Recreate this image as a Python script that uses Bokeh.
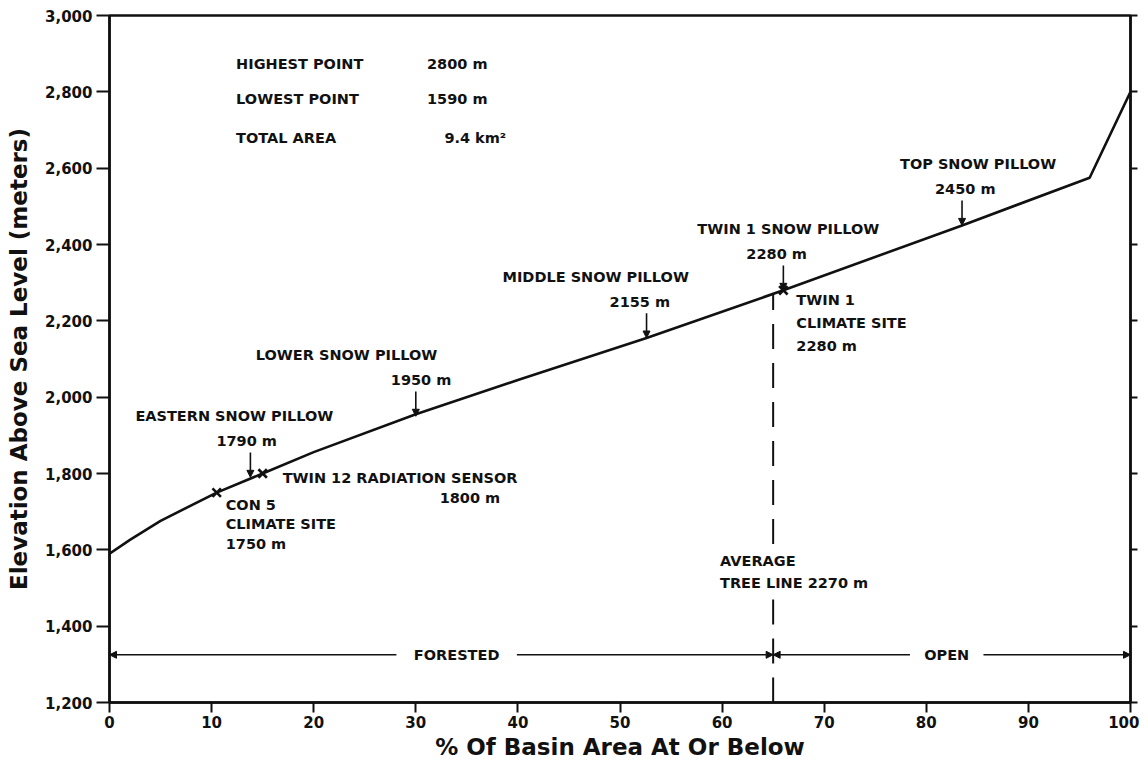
from bokeh.plotting import figure
from bokeh.models import (ColumnDataSource, LinearAxis, FixedTicker, NumeralTickFormatter,
                          Arrow, NormalHead, Range1d)
from bokeh.embed import file_html
from bokeh.resources import INLINE
from bokeh.core.properties import value

# ---------------- data ----------------
# hypsometric curve: % of basin area at or below vs elevation (m)
area_pct = [0, 2, 5, 10.5, 15, 20, 30, 40, 52.6, 66, 83.5, 96, 100]
elevation_m = [1590, 1626, 1676, 1750, 1800, 1856, 1955, 2045, 2155, 2280, 2450, 2575, 2800]

# snow pillows (arrows)
pillow_names = ["EASTERN SNOW PILLOW", "LOWER SNOW PILLOW", "MIDDLE SNOW PILLOW",
                "TWIN 1 SNOW PILLOW", "TOP SNOW PILLOW"]
pillow_pct = [13.8, 30.0, 52.6, 66.0, 83.5]
pillow_elev = [1790, 1950, 2155, 2280, 2450]

# climate / radiation sites (x markers)
site_lines = [["CON 5", "CLIMATE SITE"], ["TWIN 12 RADIATION SENSOR"], ["TWIN 1", "CLIMATE SITE"]]
site_pct = [10.5, 15.0, 66.0]
site_elev = [1750, 1800, 2280]

# basin summary
total_area_km2 = 9.4

# tree line and land cover zones
tree_line_pct = 65
tree_line_elev = 2270
zone_names = ["FORESTED", "OPEN"]
zone_start = [0, 65]
zone_end = [65, 100]
zone_level = 1325

x_ticks = [0, 10, 20, 30, 40, 50, 60, 70, 80, 90, 100]
y_ticks = [1200, 1400, 1600, 1800, 2000, 2200, 2400, 2600, 2800, 3000]

# ---------------- styling / layout constants ----------------
FONT = "DejaVu Sans"
LBL_SIZE = "14.5px"
INK = "#111111"

p = figure(width=1139, height=762, x_range=Range1d(0, 100), y_range=Range1d(1200, 3000),
           output_backend="svg", toolbar_location=None,
           min_border_left=109, min_border_right=9, min_border_top=15, min_border_bottom=55,
           x_axis_label="% Of Basin Area At Or Below",
           y_axis_label="Elevation Above Sea Level (meters)")
p.background_fill_color = "white"
p.border_fill_color = "white"
p.xgrid.visible = False
p.ygrid.visible = False
p.outline_line_color = INK
p.outline_line_width = 2.5

for ax in (p.xaxis[0], p.yaxis[0]):
    ax.axis_line_width = 2.5
    ax.axis_line_color = INK
    ax.major_tick_line_width = 2
    ax.major_tick_line_color = INK
    ax.minor_tick_line_color = None
    ax.major_tick_in = 0
    ax.major_label_text_font = FONT
    ax.major_label_text_font_style = "bold"
    ax.major_label_text_font_size = "15px"
    ax.major_label_text_color = INK
    ax.axis_label_text_font = FONT
    ax.axis_label_text_font_style = "bold"
    ax.axis_label_text_font_size = "23px"
    ax.axis_label_text_color = INK

p.xaxis.ticker = FixedTicker(ticks=x_ticks)
p.xaxis.major_tick_out = 10
p.xaxis.major_label_standoff = 3
p.xaxis.axis_label_standoff = 3

p.yaxis.ticker = FixedTicker(ticks=y_ticks)
p.yaxis.formatter = NumeralTickFormatter(format="0,0")
p.yaxis.major_tick_out = 13
p.yaxis.major_label_standoff = 4
p.yaxis.axis_label_standoff = 10

right = LinearAxis(ticker=FixedTicker(ticks=y_ticks),
                   major_label_overrides={t: "" for t in y_ticks},
                   axis_line_width=2.5, axis_line_color=INK,
                   major_tick_line_width=2, major_tick_line_color=INK,
                   major_tick_in=0, major_tick_out=7, minor_tick_line_color=None,
                   major_label_standoff=0, major_label_text_font_size="1px")
p.add_layout(right, "right")

# curve
p.line(area_pct, elevation_m, line_width=2.6, line_color=INK)

# tree line (dashed, broken where its caption sits)
gap_lo, gap_hi = 1470, 1615
p.segment(x0=[tree_line_pct, tree_line_pct], y0=[1200, gap_hi],
          x1=[tree_line_pct, tree_line_pct], y1=[gap_lo, tree_line_elev],
          line_width=2, line_color=INK, line_dash="25 14")

def txt(src, **kw):
    p.text(x="x", y="y", text="text", x_offset="dx", y_offset="dy", source=src,
           text_font=value(FONT), text_font_style="bold", text_font_size=value(LBL_SIZE),
           text_color=INK, text_align="left", text_baseline="middle", **kw)

# tree line caption
txt(ColumnDataSource(dict(x=[59.8, 59.8], y=[1572, 1512],
                          text=["AVERAGE", f"TREE LINE {tree_line_elev} m"], dx=[0, 0], dy=[0, 0])))

# forested / open zone line with arrows
zone_label_pct = [34.0, 82.0]
zone_half_gap = [5.9, 3.6]
for s, e, c, hw, name in zip(zone_start, zone_end, zone_label_pct, zone_half_gap, zone_names):
    for a, b in ((c - hw, s), (c + hw, e)):
        p.add_layout(Arrow(x_start=a, y_start=zone_level, x_end=b, y_end=zone_level,
                           line_width=1.6, line_color=INK,
                           end=NormalHead(size=7, fill_color=INK, line_color=INK, line_width=1)))
p.text(x=zone_label_pct, y=[zone_level] * 2, text=zone_names,
       text_font=value(FONT), text_font_style="bold", text_font_size=value(LBL_SIZE),
       text_color=INK, text_align="center", text_baseline="middle")

# pillow arrows
arrow_len_m = 65
arr_src = ColumnDataSource(dict(x0=pillow_pct, y0=[e + arrow_len_m for e in pillow_elev],
                                x1=pillow_pct, y1=pillow_elev))
p.add_layout(Arrow(source=arr_src, x_start="x0", y_start="y0", x_end="x1", y_end="y1",
                   line_width=1.6, line_color=INK,
                   end=NormalHead(size=7, fill_color=INK, line_color=INK, line_width=1)))

# pillow labels (pixel offsets from the pillow point)
name_dx = [-115, -160, -144, -86, -62]
elev_dx = [-34, -25, -37, -37, -27]
px, py, pt, pdx, pdy = [], [], [], [], []
for i, (n, x, e) in enumerate(zip(pillow_names, pillow_pct, pillow_elev)):
    px += [x, x]; py += [e, e]
    pt += [n, f"{e} m"]
    pdx += [name_dx[i], elev_dx[i]]
    pdy += [-61, -36]
txt(ColumnDataSource(dict(x=px, y=py, text=pt, dx=pdx, dy=pdy)))

# site markers
p.scatter(site_pct, site_elev, marker="x", size=12, line_width=2.6, line_color=INK)

# site labels
site_layout = [
    [(9, 12), (9, 31), (9, 51)],
    [(20, 4), (177, 24)],
    [(13, 10), (13, 33), (13, 56)],
]
sx, sy, st, sdx, sdy = [], [], [], [], []
for lines, x, e, lay in zip(site_lines, site_pct, site_elev, site_layout):
    texts = lines + [f"{e} m"]
    for t, (dx, dy) in zip(texts, lay):
        sx.append(x); sy.append(e); st.append(t); sdx.append(dx); sdy.append(dy)
txt(ColumnDataSource(dict(x=sx, y=sy, text=st, dx=sdx, dy=sdy)))

# basin summary block
highest = max(elevation_m)
lowest = min(elevation_m)
info_y = [2874, 2780, 2680]
txt(ColumnDataSource(dict(
    x=[12.4, 12.4, 12.4, 31.1, 31.1, 32.8],
    y=info_y + info_y,
    text=["HIGHEST POINT", "LOWEST POINT", "TOTAL AREA",
          f"{highest} m", f"{lowest} m", f"{total_area_km2} km\u00b2"],
    dx=[0] * 6, dy=[0] * 6)))

open("out.html", "w").write(file_html(p, INLINE))
